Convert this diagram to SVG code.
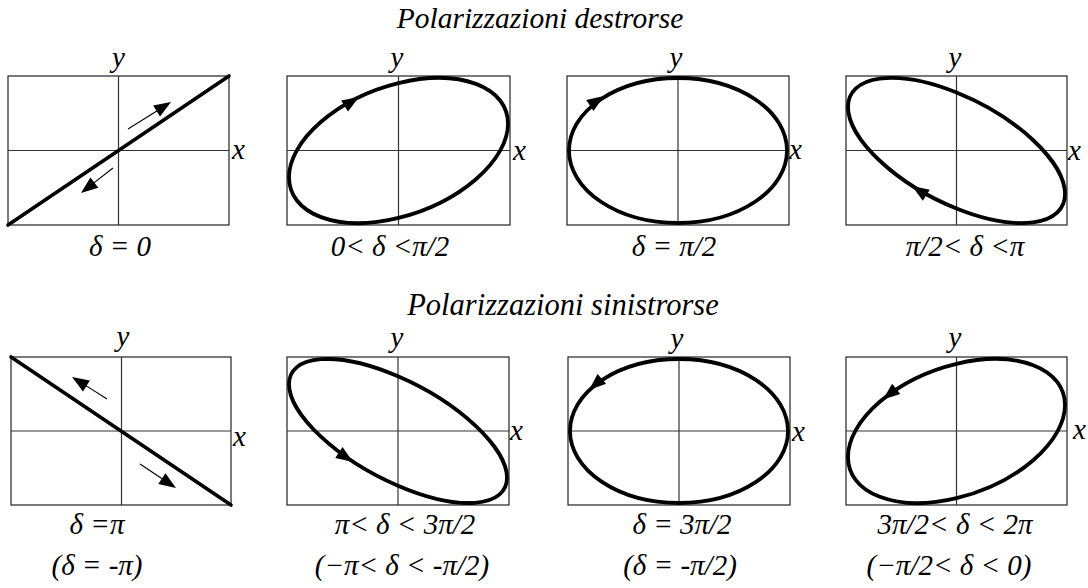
<svg xmlns="http://www.w3.org/2000/svg" xmlns:xlink="http://www.w3.org/1999/xlink" width="1088" height="588" viewBox="0 0 1088 588">
<style>
.box{fill:none;stroke:#222;stroke-width:1.2}
.ax{stroke:#333;stroke-width:1.2}
.thick{fill:none;stroke:#000;stroke-width:3.6;stroke-linecap:round}
.thin{stroke:#000;stroke-width:1.1}
.ell{fill:none;stroke:#000;stroke-width:3.8;vector-effect:non-scaling-stroke}
text{font-family:"Liberation Serif","Times New Roman",serif;font-style:italic;fill:#000;font-size:29px}
.c{text-anchor:middle}
</style>
<defs>
<path id="ah" d="M0,0 L-17,-6.5 L-17,6.5 Z" fill="#000"/>
</defs>
<rect width="1088" height="588" fill="#fff"/>
<text id="title1" class="c" x="540" y="28" style="font-size:29.5px">Polarizzazioni destrorse</text>
<text id="title2" class="c" x="563" y="315" style="font-size:30.5px">Polarizzazioni sinistrorse</text>

<g id="p1">
<rect class="box" x="8" y="76" width="221" height="149"/>
<line class="ax" x1="118.5" y1="76" x2="118.5" y2="225"/>
<line class="ax" x1="8" y1="150.5" x2="229" y2="150.5"/>
<line class="thick" x1="8" y1="225" x2="229" y2="76"/>
<line class="thin" x1="128" y1="129" x2="160" y2="109"/>
<use xlink:href="#ah" transform="translate(171,102) rotate(-32)"/>
<line class="thin" x1="113" y1="168" x2="92" y2="184.4"/>
<use xlink:href="#ah" transform="translate(81,193) rotate(142)"/>
<text class="c" x="118.5" y="67">y</text>
<text x="232" y="159">x</text>
<text class="c" x="120" y="256">δ = 0</text>
</g>

<g id="p2">
<rect class="box" x="287" y="76" width="223" height="149"/>
<line class="ax" x1="398.5" y1="76" x2="398.5" y2="225"/>
<line class="ax" x1="287" y1="150.5" x2="510" y2="150.5"/>
<circle class="ell" r="1" transform="matrix(109.5,-26.8,0,-67.4,398.5,150.5)"/>
<use xlink:href="#ah" transform="translate(359,97) rotate(-32)"/>
<text class="c" x="397" y="67">y</text>
<text x="513" y="160">x</text>
<text class="c" x="390" y="256">0&lt; δ &lt;π/2</text>
</g>

<g id="p3">
<rect class="box" x="567" y="76" width="222" height="149"/>
<line class="ax" x1="678" y1="76" x2="678" y2="225"/>
<line class="ax" x1="567" y1="150.5" x2="789" y2="150.5"/>
<ellipse class="ell" cx="678" cy="150.5" rx="109" ry="72.5"/>
<use xlink:href="#ah" transform="translate(604,96) rotate(-34)"/>
<text class="c" x="676" y="67">y</text>
<text x="789" y="159">x</text>
<text class="c" x="674" y="256">δ = π/2</text>
</g>

<g id="p4">
<rect class="box" x="846" y="76" width="221" height="149"/>
<line class="ax" x1="956.5" y1="76" x2="956.5" y2="225"/>
<line class="ax" x1="846" y1="150.5" x2="1067" y2="150.5"/>
<circle class="ell" r="1" transform="matrix(108.5,43.5,0,-58,956.5,150.5)"/>
<use xlink:href="#ah" transform="translate(912,186) rotate(212.6)"/>
<text class="c" x="955" y="67">y</text>
<text x="1068" y="160">x</text>
<text class="c" x="965" y="256">π/2&lt; δ &lt;π</text>
</g>

<g id="p5">
<rect class="box" x="11" y="357" width="220" height="148"/>
<line class="ax" x1="121.5" y1="357" x2="121.5" y2="505"/>
<line class="ax" x1="11" y1="431" x2="231" y2="431"/>
<line class="thick" x1="11" y1="357" x2="231" y2="505"/>
<line class="thin" x1="107" y1="399" x2="84" y2="384.4"/>
<use xlink:href="#ah" transform="translate(72,377) rotate(212)"/>
<line class="thin" x1="140" y1="464" x2="164.4" y2="480.2"/>
<use xlink:href="#ah" transform="translate(176,488) rotate(33.7)"/>
<text class="c" x="123" y="346">y</text>
<text x="233" y="446">x</text>
<text class="c" x="97" y="534">δ =π</text>
<text class="c" x="97" y="575">(δ = -π)</text>
</g>

<g id="p6">
<rect class="box" x="287" y="357" width="222" height="148"/>
<line class="ax" x1="398" y1="357" x2="398" y2="505"/>
<line class="ax" x1="287" y1="431" x2="509" y2="431"/>
<circle class="ell" r="1" transform="matrix(109,46.8,0,-54.7,398,431)"/>
<use xlink:href="#ah" transform="translate(353,462) rotate(34)"/>
<text class="c" x="397" y="347">y</text>
<text x="510" y="440">x</text>
<text class="c" x="405" y="534">π&lt; δ &lt; 3π/2</text>
<text class="c" x="402" y="575">(−π&lt; δ &lt; -π/2)</text>
</g>

<g id="p7">
<rect class="box" x="568" y="357" width="222" height="148"/>
<line class="ax" x1="679" y1="357" x2="679" y2="505"/>
<line class="ax" x1="568" y1="431" x2="790" y2="431"/>
<ellipse class="ell" cx="679" cy="431" rx="109" ry="72"/>
<use xlink:href="#ah" transform="translate(589,390) rotate(139)"/>
<text class="c" x="677" y="348">y</text>
<text x="792" y="441">x</text>
<text class="c" x="682" y="534">δ = 3π/2</text>
<text class="c" x="680" y="575">(δ = -π/2)</text>
</g>

<g id="p8">
<rect class="box" x="846" y="357" width="221" height="148"/>
<line class="ax" x1="956.5" y1="357" x2="956.5" y2="505"/>
<line class="ax" x1="846" y1="431" x2="1067" y2="431"/>
<circle class="ell" r="1" transform="matrix(108.5,-25.9,0,-67.2,956.5,431)"/>
<use xlink:href="#ah" transform="translate(883,399.6) rotate(141)"/>
<text class="c" x="955" y="347">y</text>
<text x="1073" y="439">x</text>
<text class="c" x="955" y="534">3π/2&lt; δ &lt; 2π</text>
<text class="c" x="949" y="575">(−π/2&lt; δ &lt; 0)</text>
</g>

<g id="connectors"/>
</svg>
